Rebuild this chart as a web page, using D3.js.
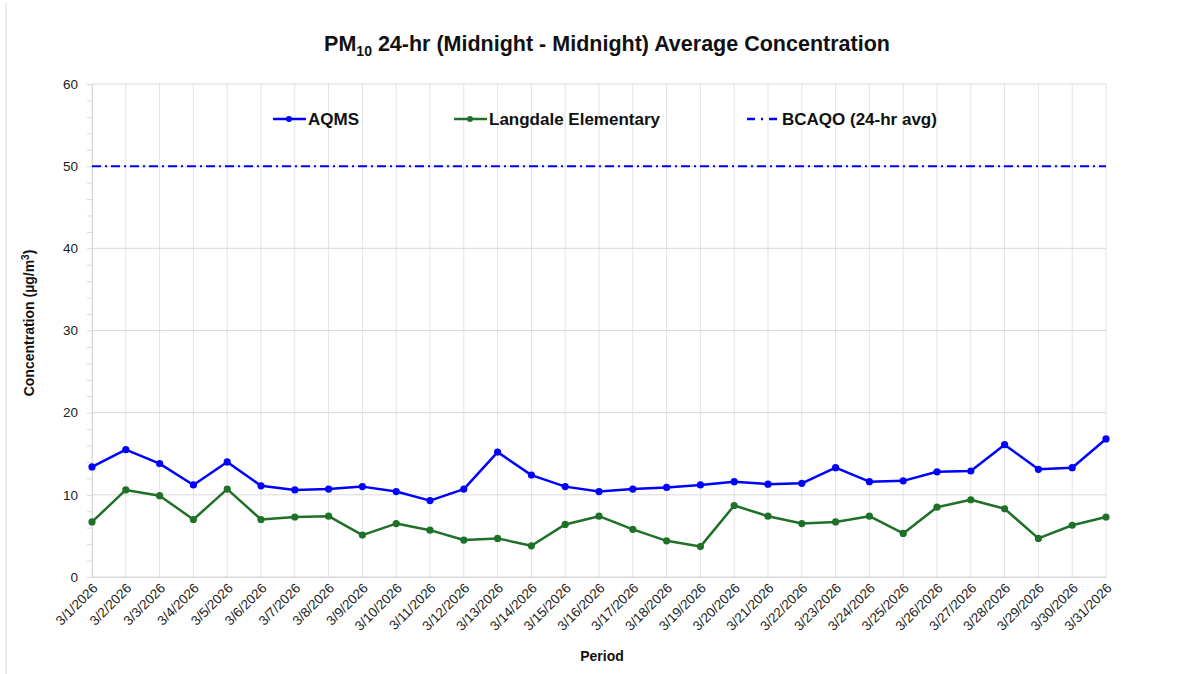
<!DOCTYPE html>
<html>
<head>
<meta charset="utf-8">
<script src="https://cdn.jsdelivr.net/npm/d3@7"></script>
<style>
  body { margin: 0; background: #fff; }
  svg { font-family: "Liberation Sans", Arial, sans-serif; }
</style>
</head>
<body>
<script>
const dates = ["3/1/2026","3/2/2026","3/3/2026","3/4/2026","3/5/2026","3/6/2026","3/7/2026","3/8/2026","3/9/2026","3/10/2026",
  "3/11/2026","3/12/2026","3/13/2026","3/14/2026","3/15/2026","3/16/2026","3/17/2026","3/18/2026","3/19/2026","3/20/2026",
  "3/21/2026","3/22/2026","3/23/2026","3/24/2026","3/25/2026","3/26/2026","3/27/2026","3/28/2026","3/29/2026","3/30/2026","3/31/2026"];
const aqms = [13.4,15.5,13.8,11.2,14.0,11.1,10.6,10.7,11.0,10.4,
  9.3,10.7,15.2,12.4,11.0,10.4,10.7,10.9,11.2,11.6,
  11.3,11.4,13.3,11.6,11.7,12.8,12.9,16.1,13.1,13.3,16.8];
const langdale = [6.7,10.6,9.9,7.0,10.7,7.0,7.3,7.4,5.1,6.5,
  5.7,4.5,4.7,3.8,6.4,7.4,5.8,4.4,3.7,8.7,
  7.4,6.5,6.7,7.4,5.3,8.5,9.4,8.3,4.7,6.3,7.3];
const bcaqo = 50;
const yTicks = [0,10,20,30,40,50,60];

const W = 1181, H = 674;
const margin = {left: 92, right: 75, top: 84, bottom: 97};

const svg = d3.select("body").append("svg")
  .attr("width", W).attr("height", H);

svg.append("line")
  .attr("x1", 6).attr("x2", 6).attr("y1", 3).attr("y2", H)
  .attr("stroke", "#d9d9d9");

const x = d3.scalePoint().domain(dates).range([margin.left, W - margin.right]);
const y = d3.scaleLinear().domain([0, 60]).range([H - margin.bottom, margin.top]);

// vertical gridlines
svg.append("g").selectAll("line")
  .data(dates).enter().append("line")
  .attr("x1", d => x(d)).attr("x2", d => x(d))
  .attr("y1", y(0)).attr("y2", y(60))
  .attr("stroke", "#e3e3e3").attr("stroke-width", 1);

// horizontal gridlines
svg.append("g").selectAll("line")
  .data(yTicks).enter().append("line")
  .attr("x1", x(dates[0])).attr("x2", x(dates[dates.length - 1]))
  .attr("y1", d => y(d)).attr("y2", d => y(d))
  .attr("stroke", "#d9d9d9").attr("stroke-width", 1);

// y axis with minor ticks
const yAxis = svg.append("g")
  .attr("transform", `translate(${margin.left},0)`)
  .call(d3.axisLeft(y).tickValues(d3.range(0, 61, 2)).tickSize(5).tickFormat(d => d % 10 === 0 ? d : ""));
yAxis.select(".domain").attr("stroke", "#d9d9d9");
yAxis.selectAll(".tick line").attr("stroke", "#d9d9d9");
yAxis.selectAll(".tick text").attr("font-size", 13.5).attr("fill", "#222")
  .attr("x", -14).attr("font-family", "Liberation Sans, Arial, sans-serif");

// x axis
const xAxis = svg.append("g")
  .attr("transform", `translate(0,${y(0)})`)
  .call(d3.axisBottom(x).tickSize(0));
xAxis.select(".domain").attr("stroke", "#d9d9d9");
xAxis.selectAll(".tick text")
  .attr("font-size", 13.5).attr("fill", "#222")
  .attr("font-family", "Liberation Sans, Arial, sans-serif")
  .attr("text-anchor", "end")
  .attr("dy", 0).attr("y", 0)
  .attr("transform", "translate(6,12) rotate(-45)");

// BCAQO objective line
svg.append("line")
  .attr("x1", x(dates[0])).attr("x2", x(dates[dates.length - 1]))
  .attr("y1", y(bcaqo)).attr("y2", y(bcaqo))
  .attr("stroke", "#0000ff").attr("stroke-width", 2)
  .attr("stroke-dasharray", "9,4,2,4");

const line = d3.line().x((d, i) => x(dates[i])).y(d => y(d));

function drawSeries(vals, color) {
  svg.append("path").datum(vals)
    .attr("fill", "none").attr("stroke", color).attr("stroke-width", 2.5)
    .attr("stroke-linejoin", "round")
    .attr("d", line);
  svg.append("g").selectAll("circle")
    .data(vals).enter().append("circle")
    .attr("cx", (d, i) => x(dates[i])).attr("cy", d => y(d))
    .attr("r", 3.6).attr("fill", color);
}
drawSeries(langdale, "#1e7126");
drawSeries(aqms, "#0000ff");

// legend
const legend = [
  {label: "AQMS", color: "#0000ff", x: 273, marker: true, dash: null},
  {label: "Langdale Elementary", color: "#1e7126", x: 454, marker: true, dash: null},
  {label: "BCAQO (24-hr avg)", color: "#0000ff", x: 747, marker: false, dash: "8,6,2,6"}
];
const lg = svg.append("g").selectAll("g").data(legend).enter().append("g")
  .attr("transform", d => `translate(${d.x},119)`);
lg.append("line").attr("x1", 0).attr("x2", 33)
  .attr("stroke", d => d.color).attr("stroke-width", 2.5)
  .attr("stroke-dasharray", d => d.dash);
lg.filter(d => d.marker).append("circle").attr("cx", 16).attr("r", 3).attr("fill", d => d.color);
lg.append("text").attr("x", 35).attr("dy", "0.35em")
  .attr("font-size", 17).attr("font-weight", "bold").attr("fill", "#111")
  .text(d => d.label);

// title
const title = svg.append("text")
  .attr("x", 607).attr("y", 51).attr("text-anchor", "middle")
  .attr("font-size", 21.5).attr("font-weight", "bold").attr("fill", "#111");
title.append("tspan").text("PM");
title.append("tspan").attr("font-size", 14).attr("dy", 5).text("10");
title.append("tspan").attr("dy", -5).text(" 24-hr (Midnight - Midnight) Average Concentration");

// axis titles
const yt = svg.append("text")
  .attr("transform", "translate(34,323) rotate(-90)")
  .attr("text-anchor", "middle").attr("font-size", 14).attr("font-weight", "bold").attr("fill", "#111");
yt.append("tspan").text("Concentration (µg/m");
yt.append("tspan").attr("font-size", 10).attr("dy", -5).text("3");
yt.append("tspan").attr("dy", 5).text(")");

svg.append("text")
  .attr("x", 602).attr("y", 661).attr("text-anchor", "middle")
  .attr("font-size", 14).attr("font-weight", "bold").attr("fill", "#111")
  .text("Period");
</script>
</body>
</html>
